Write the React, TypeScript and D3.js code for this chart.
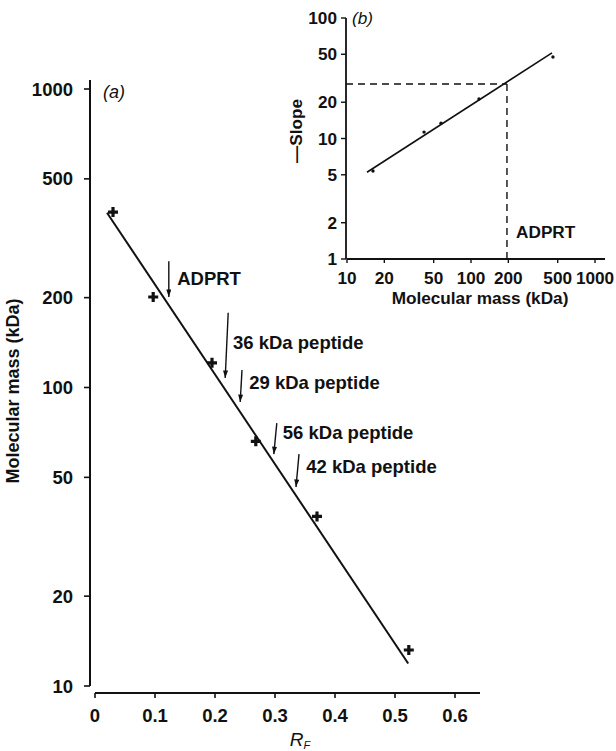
import React from "react";
import * as d3 from "d3";

// ---------- Panel (a) data ----------
const rfValues = [0.03, 0.097, 0.195, 0.268, 0.37, 0.523];
const massValues = [387, 201, 121, 66, 37, 13.2];
const fitRF = [0.02, 0.522];
const fitMass = [385, 11.9];
const mainXTicks = [0, 0.1, 0.2, 0.3, 0.4, 0.5, 0.6];
const mainYTicks = [10, 20, 50, 100, 200, 500, 1000];

// annotation arrows (RF at top/bottom, mass at top/bottom, label anchor)
const arrowLabels = ["ADPRT", "36 kDa peptide", "29 kDa peptide", "56 kDa peptide", "42 kDa peptide"];
const arrowRFTop = [0.123, 0.222, 0.245, 0.303, 0.34];
const arrowRFBottom = [0.123, 0.217, 0.242, 0.298, 0.335];
const arrowMassTop = [265, 178, 114.5, 76, 59.8];
const arrowMassBottom = [201, 107.6, 89.4, 59.8, 46.4];
const labelRF = [0.137, 0.23, 0.257, 0.313, 0.352];
const labelMass = [220, 134.6, 98.8, 67.2, 51.7];

// ---------- Panel (b) data ----------
const insetMass = [16.2, 41.8, 57.3, 116, 458];
const insetSlope = [5.38, 11.3, 13.4, 21.3, 47.4];
const insetFitMass = [14.5, 450];
const insetFitSlope = [5.25, 51.3];
const adprtMass = 195;
const adprtSlope = 28.3;
const insetXTicks = [10, 20, 50, 100, 200, 500, 1000];
const insetYTicks = [1, 2, 5, 10, 20, 50, 100];
const insetLabelMass = 231;
const insetLabelSlope = 1.49;

const FONT = "'Liberation Sans', Arial, Helvetica, sans-serif";

export default function App() {
  // main scales
  const x = d3.scaleLinear().domain([0, 0.6]).range([95, 455]);
  const y = d3.scaleLog().domain([10, 1000]).range([686, 89]);
  const axisX = 90;
  const axisY = 693;

  // inset scales
  const ix = d3.scaleLog().domain([10, 1000]).range([347, 595]);
  const iy = d3.scaleLog().domain([1, 100]).range([259, 18]);
  const iAxisX = 346;
  const iAxisY = 259;

  const line = d3.line<[number, number]>();
  const fitPath = line(fitRF.map((r, i) => [x(r), y(fitMass[i])] as [number, number]));
  const insetFitPath = line(
    insetFitMass.map((m, i) => [ix(m), iy(insetFitSlope[i])] as [number, number])
  );

  const txt = { fontFamily: FONT, fill: "#111" } as const;
  const FS = 18.5;
  const IFS = 17.2;

  return (
    <svg
      width={616}
      height={751}
      style={{ position: "absolute", left: 0, top: 0, background: "#fff" }}
    >
      <defs>
        <marker
          id="ah"
          viewBox="0 0 9 6"
          refX="9"
          refY="3"
          markerWidth="9"
          markerHeight="5"
          orient="auto"
          markerUnits="userSpaceOnUse"
        >
          <path d="M0,0 L9,3 L0,6 Z" fill="#111" />
        </marker>
      </defs>
      <rect width={616} height={751} fill="#fff" />

      {/* ---------- Panel (a) ---------- */}
      <line x1={axisX} x2={axisX} y1={80} y2={y(10)} stroke="#111" strokeWidth={2} />
      {mainYTicks.map((t) => (
        <g key={"my" + t}>
          <line x1={axisX - 6} x2={axisX} y1={y(t)} y2={y(t)} stroke="#111" strokeWidth={1.6} />
          <text x={73} y={y(t) + 6.5} textAnchor="end" fontSize={FS} fontWeight="bold" {...txt}>
            {t}
          </text>
        </g>
      ))}
      <line x1={x(0)} x2={480} y1={axisY} y2={axisY} stroke="#111" strokeWidth={2} />
      {mainXTicks.map((t) => (
        <g key={"mx" + t}>
          <line x1={x(t)} x2={x(t)} y1={axisY} y2={axisY + 5} stroke="#111" strokeWidth={1.6} />
          <text x={x(t)} y={722} textAnchor="middle" fontSize={FS} fontWeight="bold" {...txt}>
            {t === 0 ? "0" : d3.format(".1f")(t)}
          </text>
        </g>
      ))}
      <text x={300} y={746} textAnchor="middle" fontSize={19} fontStyle="italic" {...txt}>
        R<tspan fontSize={11} dy={3}>F</tspan>
      </text>
      <text
        transform={`translate(19,${391}) rotate(-90)`}
        textAnchor="middle"
        fontSize={18}
        fontWeight="bold"
        {...txt}
      >
        Molecular mass (kDa)
      </text>
      <text x={103} y={98} fontSize={18} fontStyle="italic" {...txt}>
        (a)
      </text>

      <path d={fitPath || ""} fill="none" stroke="#111" strokeWidth={2} />
      {rfValues.map((r, i) => {
        const cx = x(r);
        const cy = y(massValues[i]);
        return (
          <path
            key={"pt" + i}
            d={`M${cx - 5},${cy}L${cx + 5},${cy}M${cx},${cy - 5}L${cx},${cy + 5}`}
            stroke="#111"
            strokeWidth={3.2}
          />
        );
      })}

      {arrowLabels.map((lab, i) => (
        <g key={"ar" + i}>
          <line
            x1={x(arrowRFTop[i])}
            y1={y(arrowMassTop[i])}
            x2={x(arrowRFBottom[i])}
            y2={y(arrowMassBottom[i])}
            stroke="#111"
            strokeWidth={1.4}
            markerEnd="url(#ah)"
          />
          <text x={x(labelRF[i])} y={y(labelMass[i])} fontSize={FS} fontWeight="bold" {...txt}>
            {lab}
          </text>
        </g>
      ))}

      {/* ---------- Panel (b) ---------- */}
      <line x1={iAxisX} x2={iAxisX} y1={iy(100)} y2={iAxisY} stroke="#111" strokeWidth={1.8} />
      {insetYTicks.map((t) => (
        <g key={"iy" + t}>
          <line x1={iAxisX - 5} x2={iAxisX} y1={iy(t)} y2={iy(t)} stroke="#111" strokeWidth={1.4} />
          <text x={337} y={iy(t) + 6} textAnchor="end" fontSize={IFS} fontWeight="bold" {...txt}>
            {t}
          </text>
        </g>
      ))}
      <line x1={ix(10)} x2={605} y1={iAxisY} y2={iAxisY} stroke="#111" strokeWidth={1.8} />
      {insetXTicks.map((t) => (
        <g key={"ix" + t}>
          <line x1={ix(t)} x2={ix(t)} y1={iAxisY} y2={iAxisY + 4} stroke="#111" strokeWidth={1.4} />
          <text x={ix(t)} y={284} textAnchor="middle" fontSize={IFS} fontWeight="bold" {...txt}>
            {t}
          </text>
        </g>
      ))}
      <text x={480} y={304} textAnchor="middle" fontSize={IFS} fontWeight="bold" {...txt}>
        Molecular mass (kDa)
      </text>
      <text
        transform={`translate(302,${131}) rotate(-90)`}
        textAnchor="middle"
        fontSize={IFS}
        fontWeight="bold"
        {...txt}
      >
        —Slope
      </text>
      <text x={352} y={24} fontSize={IFS} fontStyle="italic" {...txt}>
        (b)
      </text>

      <path d={insetFitPath || ""} fill="none" stroke="#111" strokeWidth={1.6} />
      {insetMass.map((m, i) => (
        <circle key={"ip" + i} cx={ix(m)} cy={iy(insetSlope[i])} r={1.7} fill="#111" />
      ))}
      <line
        x1={iAxisX}
        x2={ix(adprtMass)}
        y1={iy(adprtSlope)}
        y2={iy(adprtSlope)}
        stroke="#111"
        strokeWidth={1.4}
        strokeDasharray="7,5"
      />
      <line
        x1={ix(adprtMass)}
        x2={ix(adprtMass)}
        y1={iy(adprtSlope)}
        y2={iAxisY}
        stroke="#111"
        strokeWidth={1.4}
        strokeDasharray="7,5"
      />
      <text x={ix(insetLabelMass)} y={iy(insetLabelSlope)} fontSize={IFS} fontWeight="bold" {...txt}>
        ADPRT
      </text>
    </svg>
  );
}
